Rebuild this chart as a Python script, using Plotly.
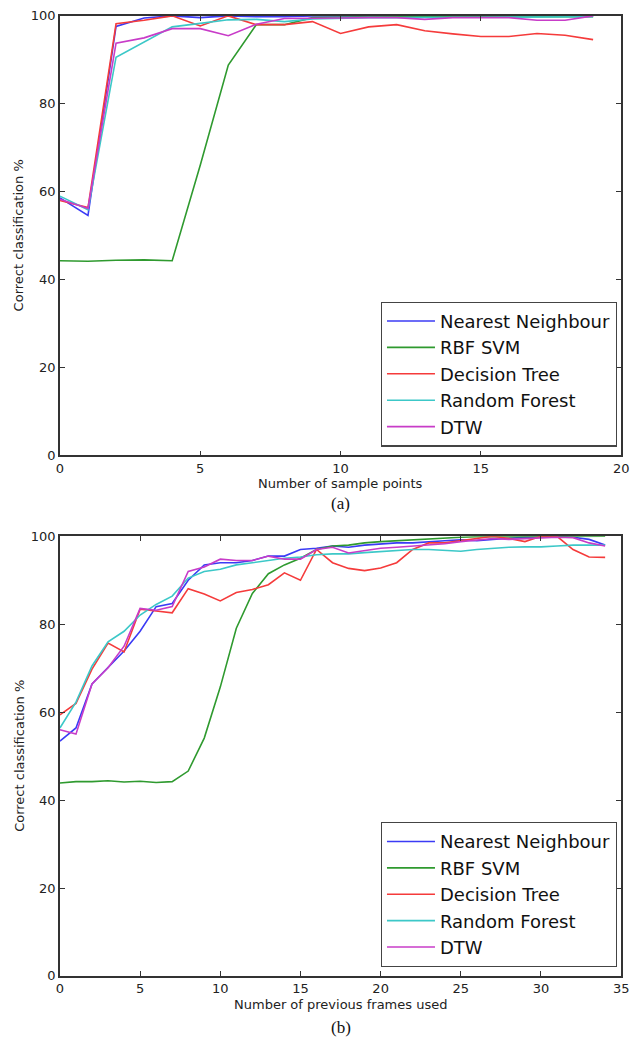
import plotly.graph_objects as go

W, H = 638, 1048

series_names = ["Nearest Neighbour", "RBF SVM", "Decision Tree", "Random Forest", "DTW"]
colors = ["#3b3bf5", "#2f9a2f", "#f53b3b", "#3cc8c8", "#c83cc8"]

# (a) Number of sample points
x_a = list(range(20))
nn_a = [58.6, 54.6, 97.6, 99.5, 100, 99.6, 100, 99.8, 99.8, 100, 100, 100, 100, 100, 100, 100, 100, 100, 100, 100]
svm_a = [44.3, 44.2, 44.4, 44.5, 44.3, 66.0, 88.8, 98.0, 98.0, 99.6, 99.7, 99.8, 99.8, 99.8, 99.8, 99.8, 99.8, 99.8, 99.8, 99.8]
dt_a = [58.0, 56.4, 98.2, 99.0, 100, 97.7, 100, 98.0, 98.0, 98.7, 96.0, 97.5, 98.0, 96.6, 95.9, 95.3, 95.3, 96.0, 95.6, 94.6]
rf_a = [59.0, 55.9, 90.6, 94.0, 97.5, 98.3, 99.1, 99.2, 98.7, 99.3, 99.5, 99.6, 99.6, 99.7, 99.7, 99.7, 99.7, 99.7, 99.7, 99.8]
dtw_a = [58.3, 56.2, 93.8, 95.0, 97.1, 97.1, 95.5, 98.1, 99.4, 99.4, 99.5, 99.6, 99.6, 99.2, 99.6, 99.6, 99.6, 99.0, 99.0, 100]

# (b) Number of previous frames used
x_b = list(range(35))
nn_b = [53.4, 56.4, 66.4, 70.2, 73.9, 78.4, 84.0, 84.7, 90.0, 93.5, 94.0, 94.0, 94.5, 95.5, 95.5, 97.0, 97.3, 97.8, 97.5, 98.0,
        98.3, 98.5, 98.5, 98.8, 99.0, 99.2, 99.0, 99.3, 99.5, 99.8, 99.8, 100, 99.8, 99.3, 98.0]
svm_b = [43.9, 44.2, 44.2, 44.4, 44.1, 44.3, 44.0, 44.2, 46.6, 54.1, 65.7, 79.1, 87.0, 91.5, 93.5, 95.0, 97.0, 97.8, 98.0, 98.5,
         98.8, 99.0, 99.2, 99.5, 99.7, 99.8, 99.9, 99.9, 100, 100, 100, 100, 100, 100, 100]
dt_b = [59.4, 62.0, 69.8, 75.7, 73.7, 83.4, 83.0, 82.6, 88.1, 86.9, 85.3, 87.2, 87.9, 89.0, 91.7, 90.0, 97.0, 94.0, 92.7, 92.2,
        92.8, 94.0, 97.0, 98.5, 98.5, 99.0, 99.5, 100, 99.5, 98.8, 100, 100, 97.0, 95.3, 95.2]
rf_b = [56.4, 62.3, 70.5, 76.0, 78.4, 82.1, 84.5, 86.4, 90.5, 92.0, 92.5, 93.5, 94.0, 94.5, 95.0, 95.3, 95.8, 96.0, 96.0, 96.3,
        96.5, 96.8, 97.0, 97.0, 96.8, 96.6, 97.0, 97.3, 97.5, 97.6, 97.6, 97.8, 98.0, 98.0, 98.0]
dtw_b = [56.0, 55.0, 66.4, 70.1, 75.0, 83.6, 83.2, 84.0, 92.0, 93.0, 94.8, 94.5, 94.5, 95.5, 94.8, 94.8, 97.0, 97.5, 96.2, 96.8,
         97.3, 97.5, 97.8, 98.0, 98.3, 98.8, 99.2, 99.5, 99.3, 99.5, 99.6, 99.8, 99.7, 98.5, 97.8]

y_ticks = [0, 20, 40, 60, 80, 100]
xticks_a = [0, 5, 10, 15, 20]
xticks_b = [0, 5, 10, 15, 20, 25, 30, 35]

xlabel_a = "Number of sample points"
xlabel_b = "Number of previous frames used"
ylabel = "Correct classification %"

fig = go.Figure()
for name, col, ys in zip(series_names, colors, [nn_a, svm_a, dt_a, rf_a, dtw_a]):
    fig.add_trace(go.Scatter(x=x_a, y=ys, mode="lines", name=name, line=dict(color=col, width=1.6),
                             xaxis="x", yaxis="y", legend="legend", legendgroup="a" + name))
for name, col, ys in zip(series_names, colors, [nn_b, svm_b, dt_b, rf_b, dtw_b]):
    fig.add_trace(go.Scatter(x=x_b, y=ys, mode="lines", name=name, line=dict(color=col, width=1.6),
                             xaxis="x2", yaxis="y2", legend="legend2", legendgroup="b" + name))


def px_x(p):
    return p / W


def px_y(p):
    return 1 - p / H


axis_common = dict(showgrid=False, zeroline=False, showline=True, linecolor="#333333", linewidth=1.5,
                   mirror="ticks", ticks="inside", ticklen=5, tickcolor="#333333",
                   tickfont=dict(family="DejaVu Sans", size=13, color="#222222"))

ax_left, ax_right = 57, 629
top_a, bot_a = 9, 455
top_b, bot_b = 537, 983

legend_common = dict(xanchor="left", yanchor="bottom", bgcolor="white",
                     bordercolor="#444444", borderwidth=1.2,
                     font=dict(family="DejaVu Sans", size=18, color="#111111"),
                     tracegroupgap=0, itemwidth=48)

fig.update_layout(
    width=W, height=H, margin=dict(l=0, r=0, t=0, b=0),
    paper_bgcolor="white", plot_bgcolor="white",
    xaxis=dict(domain=[px_x(ax_left), px_x(ax_right)], range=[0, 20], tickvals=xticks_a, anchor="y", **axis_common),
    yaxis=dict(domain=[px_y(bot_a), px_y(top_a)], range=[0, 100], tickvals=y_ticks, anchor="x", **axis_common),
    xaxis2=dict(domain=[px_x(ax_left), px_x(ax_right)], range=[0, 35], tickvals=xticks_b, anchor="y2", **axis_common),
    yaxis2=dict(domain=[px_y(bot_b), px_y(top_b)], range=[0, 100], tickvals=y_ticks, anchor="x2", **axis_common),
    legend=dict(x=px_x(384), y=px_y(446), **legend_common),
    legend2=dict(x=px_x(384), y=px_y(974), **legend_common),
    showlegend=True,
)

ann_font = dict(family="DejaVu Sans", size=13, color="#222222")
cap_font = dict(family="Liberation Serif", size=17, color="#111111")
mid_x = px_x((ax_left + ax_right) / 2)
ann_common = dict(xref="paper", yref="paper", showarrow=False, xanchor="center", yanchor="middle")
fig.add_annotation(text=xlabel_a, x=mid_x, y=px_y(483), font=ann_font, **ann_common)
fig.add_annotation(text="(a)", x=mid_x, y=px_y(504), font=cap_font, **ann_common)
fig.add_annotation(text=xlabel_b, x=mid_x, y=px_y(1012), font=ann_font, **ann_common)
fig.add_annotation(text="(b)", x=mid_x, y=px_y(1035), font=cap_font, **ann_common)
fig.add_annotation(text=ylabel, x=px_x(15), y=px_y((top_a + bot_a) / 2), textangle=-90, font=ann_font, **ann_common)
fig.add_annotation(text=ylabel, x=px_x(15), y=px_y((top_b + bot_b) / 2), textangle=-90, font=ann_font, **ann_common)

fig.write_html("out.html",
               config={"displayModeBar": False},
               post_script="document.body.style.margin='0px';document.body.style.padding='0px';"
                           "document.body.style.overflow='hidden';")
